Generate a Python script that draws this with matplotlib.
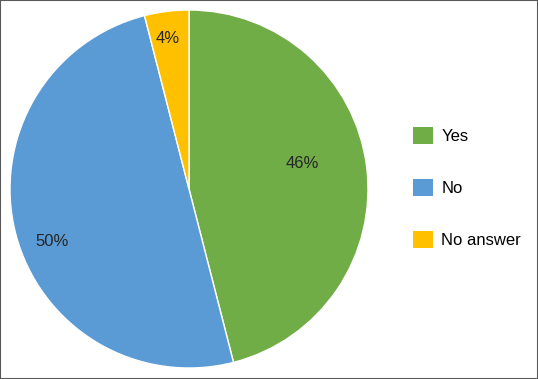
import numpy as np
import matplotlib
matplotlib.use("Agg")
import matplotlib.pyplot as plt
import matplotlib.patches as patches

plt.rcParams['font.family'] = ['Liberation Sans', 'DejaVu Sans']

labels = ['Yes', 'No', 'No answer']
values = [46, 50, 4]
colors = ['#70AD47', '#5B9BD5', '#FFC000']
label_dist = [0.65, 0.82, 0.85]
label_shift = [5.6, 6.4, 0.8]   # degrees off the wedge middle

fig = plt.figure(figsize=(5.38, 3.79), dpi=100)
ax = fig.add_axes([10 / 538, 11 / 379, 358 / 538, 358 / 379])

wedges, _ = ax.pie(values, colors=colors, startangle=90, counterclock=False,
                   wedgeprops=dict(edgecolor='white', linewidth=1))
ax.set_aspect('equal')
ax.set_xlim(-1, 1)
ax.set_ylim(-1, 1)

# percentage labels
for w, v, d, s in zip(wedges, values, label_dist, label_shift):
    mid = np.deg2rad((w.theta1 + w.theta2) / 2 + s)
    ax.text(d * np.cos(mid), d * np.sin(mid), f'{v}%', ha='center', va='center',
            fontsize=12, color='#262626')

handles = [patches.Patch(facecolor=c, edgecolor='none') for c in colors]
fig.legend(handles, labels, loc='center left', bbox_to_anchor=(398 / 538, 0.505),
           frameon=False, fontsize=12, handlelength=1.2, handleheight=1.2,
           labelspacing=2.1, handletextpad=0.5)

fig.add_artist(patches.Rectangle((0, 0), 1, 1, transform=fig.transFigure,
                                 fill=False, edgecolor='#595959', linewidth=1.5))

fig.savefig('out.png', dpi=100)
